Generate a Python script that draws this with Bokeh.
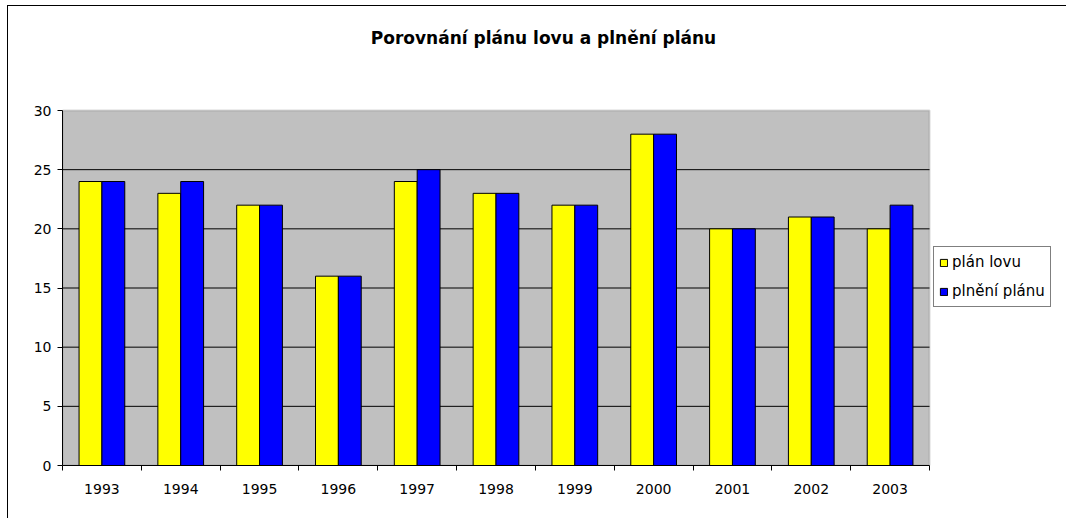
from bokeh.plotting import figure
from bokeh.models import (ColumnDataSource, Range1d, FixedTicker, Legend, LegendItem,
                          BoxAnnotation, Label)
from bokeh.embed import file_html
from bokeh.resources import INLINE

years = ["1993", "1994", "1995", "1996", "1997", "1998", "1999", "2000", "2001", "2002", "2003"]
plan_lovu = [24, 23, 22, 16, 24, 23, 22, 28, 20, 21, 20]
plneni_planu = [24, 24, 22, 16, 25, 23, 22, 28, 20, 21, 22]
y_ticks = [0, 5, 10, 15, 20, 25, 30]
title_text = "Porovnání plánu lovu a plnění plánu"
series_names = ["plán lovu", "plnění plánu"]

FONT = "DejaVu Sans"
n = len(years)
idx = list(range(n))
y_max = y_ticks[-1]

# layout (pixels)
W, H = 1059, 513
BL, BR, BT, BB = 54, 1, 0, 54          # borders around the frame
AREA_W, AREA_H = 867, 355              # size of the grey plotting area
frame_w = W - BL - BR
frame_h = H - BT - BB
px_x = AREA_W / n
px_y = AREA_H / y_max

src = ColumnDataSource(dict(
    x1=[i - 0.145 for i in idx],
    x2=[i + 0.145 for i in idx],
    a=plan_lovu,
    b=plneni_planu,
))

p = figure(width=W, height=H, output_backend="svg", toolbar_location=None, title_location=None,
           x_range=Range1d(-0.5, -0.5 + frame_w / px_x), y_range=Range1d(0, frame_h / px_y),
           min_border_left=BL, min_border_right=BR, min_border_top=BT, min_border_bottom=BB)
p.background_fill_color = "white"
p.border_fill_color = "white"
p.outline_line_color = None
p.styles = {"border-left": "1px solid black", "border-top": "1px solid black",
            "margin-left": "7px", "margin-top": "5px"}

# grey plotting area with grey border
area = BoxAnnotation(left=-0.5, right=n - 0.5, bottom=0, top=y_max, level="underlay",
                     fill_color="#C0C0C0", fill_alpha=1, line_color="#808080", line_width=2)
p.add_layout(area)

# horizontal grid lines
gy = y_ticks[1:-1]
p.segment(x0=[-0.5] * len(gy), x1=[n - 0.5] * len(gy), y0=gy, y1=gy, line_color="black", line_width=1)

r1 = p.vbar(x="x1", top="a", width=0.29, source=src, fill_color="#FFFF00", line_color="black", line_width=1)
r2 = p.vbar(x="x2", top="b", width=0.29, source=src, fill_color="#0000FF", line_color="black", line_width=1)

p.xgrid.visible = False
p.ygrid.visible = False

# x axis
xa = p.xaxis[0]
xa.bounds = (-0.5, n - 0.5)
xa.ticker = FixedTicker(ticks=idx, minor_ticks=[i - 0.5 for i in idx] + [n - 0.5])
xa.major_label_overrides = {i: y for i, y in enumerate(years)}
xa.major_tick_out = 0
xa.major_tick_in = 0
xa.minor_tick_out = 5
xa.minor_tick_in = 0
xa.minor_tick_line_color = "black"
xa.axis_line_color = "black"
xa.major_label_text_font = FONT
xa.major_label_text_font_size = "14px"
xa.major_label_text_color = "black"
xa.major_label_standoff = 13

# y axis
ya = p.yaxis[0]
ya.bounds = (0, y_max)
ya.ticker = FixedTicker(ticks=y_ticks)
ya.major_tick_out = 5
ya.major_tick_in = 0
ya.minor_tick_out = 0
ya.minor_tick_in = 0
ya.major_tick_line_color = "black"
ya.axis_line_color = "black"
ya.major_label_text_font = FONT
ya.major_label_text_font_size = "14px"
ya.major_label_text_color = "black"
ya.major_label_standoff = 6

# title (centre at page x=543, baseline near page y=37; area left=62, bottom=465)
p.add_layout(Label(x=-0.5 + (543 - 62) / px_x, y=(465 - 37) / px_y, text=title_text,
                   text_font=FONT, text_font_size="17px", text_font_style="bold",
                   text_color="black", text_align="center", text_baseline="alphabetic"))

legend = Legend(items=[LegendItem(label=series_names[0], renderers=[r1]),
                       LegendItem(label=series_names[1], renderers=[r2])],
                location=(AREA_W + 4, 158))
legend.label_text_font = FONT
legend.label_text_font_size = "15px"
legend.label_text_color = "black"
legend.glyph_width = 9
legend.glyph_height = 9
legend.label_height = 20
legend.label_standoff = 4
legend.spacing = 9
legend.padding = 5
legend.margin = 0
legend.border_line_color = "black"
legend.border_line_width = 1
legend.background_fill_color = "white"
legend.background_fill_alpha = 1
p.add_layout(legend)

open("out.html", "w").write(file_html(p, INLINE))
